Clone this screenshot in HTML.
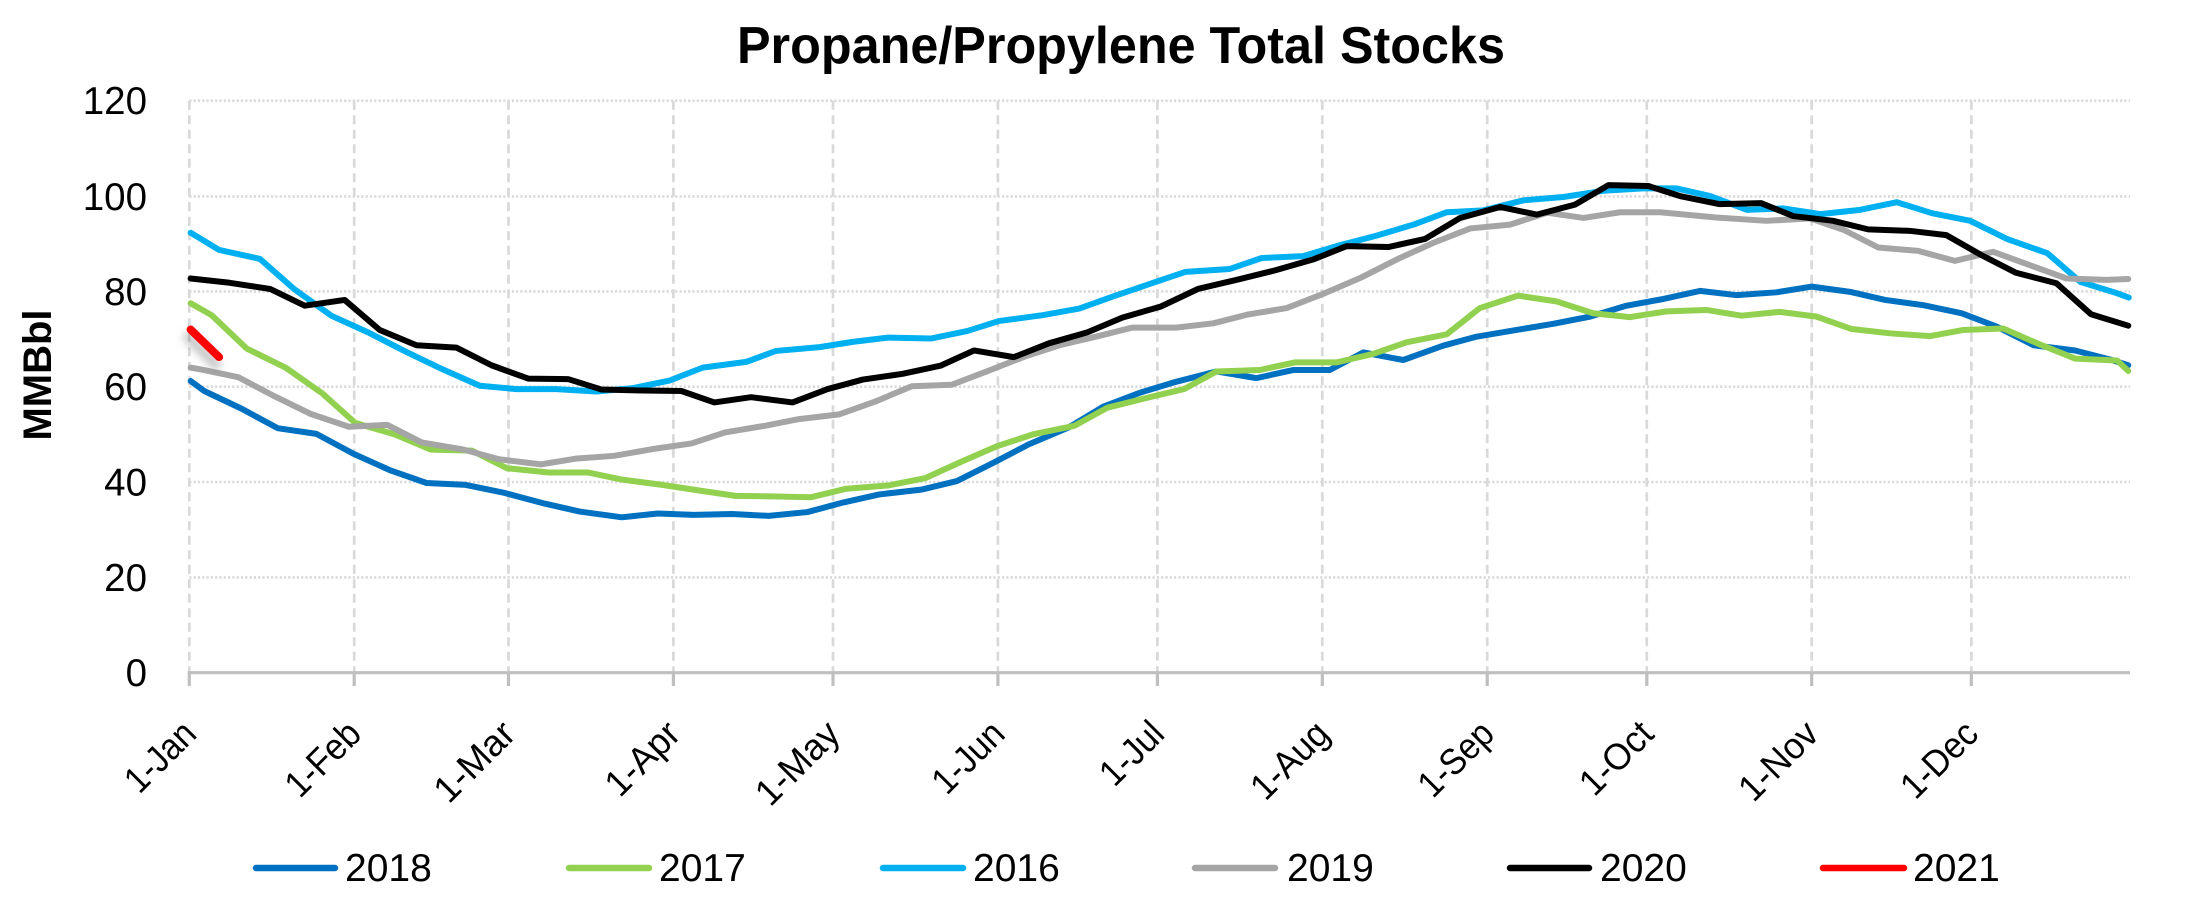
<!DOCTYPE html>
<html>
<head>
<meta charset="utf-8">
<style>
  html, body { margin: 0; padding: 0; background: #ffffff; }
  svg { display: block; }
  text { font-family: "Liberation Sans", Arial, sans-serif; fill: #000; }
</style>
</head>
<body>
<svg width="2192" height="900" viewBox="0 0 2192 900" xmlns="http://www.w3.org/2000/svg">
  <defs>
    <filter id="shadow" x="-50%" y="-50%" width="200%" height="200%">
      <feGaussianBlur stdDeviation="4"/>
    </filter>
  </defs>
  <rect x="0" y="0" width="2192" height="900" fill="#ffffff"/>

  <!-- Title -->
  <text x="737" y="63" font-size="52" font-weight="bold" textLength="768" lengthAdjust="spacingAndGlyphs">Propane/Propylene Total Stocks</text>

  <!-- Horizontal dotted gridlines -->
  <g stroke="#D9D9D9" stroke-width="2.6" stroke-dasharray="2.2 2.1">
    <line x1="189.3" y1="100.7" x2="2130" y2="100.7"/>
    <line x1="189.3" y1="196.4" x2="2130" y2="196.4"/>
    <line x1="189.3" y1="291.4" x2="2130" y2="291.4"/>
    <line x1="189.3" y1="386.7" x2="2130" y2="386.7"/>
    <line x1="189.3" y1="482.0" x2="2130" y2="482.0"/>
    <line x1="189.3" y1="577.4" x2="2130" y2="577.4"/>
  </g>

  <!-- Vertical dashed gridlines -->
  <g stroke="#D9D9D9" stroke-width="2.7" stroke-dasharray="9 5.5">
    <line x1="189.3" y1="100.7" x2="189.3" y2="672.7"/>
    <line x1="354.2" y1="100.7" x2="354.2" y2="672.7"/>
    <line x1="508.5" y1="100.7" x2="508.5" y2="672.7"/>
    <line x1="673.4" y1="100.7" x2="673.4" y2="672.7"/>
    <line x1="833.0" y1="100.7" x2="833.0" y2="672.7"/>
    <line x1="997.9" y1="100.7" x2="997.9" y2="672.7"/>
    <line x1="1157.4" y1="100.7" x2="1157.4" y2="672.7"/>
    <line x1="1322.3" y1="100.7" x2="1322.3" y2="672.7"/>
    <line x1="1487.2" y1="100.7" x2="1487.2" y2="672.7"/>
    <line x1="1646.8" y1="100.7" x2="1646.8" y2="672.7"/>
    <line x1="1811.7" y1="100.7" x2="1811.7" y2="672.7"/>
    <line x1="1971.3" y1="100.7" x2="1971.3" y2="672.7"/>
  </g>

  <!-- X axis line and ticks -->
  <g stroke="#BFBFBF" stroke-width="3.2">
    <line x1="187.7" y1="672.7" x2="2130" y2="672.7"/>
    <line x1="189.3" y1="672.7" x2="189.3" y2="686"/>
    <line x1="354.2" y1="672.7" x2="354.2" y2="686"/>
    <line x1="508.5" y1="672.7" x2="508.5" y2="686"/>
    <line x1="673.4" y1="672.7" x2="673.4" y2="686"/>
    <line x1="833.0" y1="672.7" x2="833.0" y2="686"/>
    <line x1="997.9" y1="672.7" x2="997.9" y2="686"/>
    <line x1="1157.4" y1="672.7" x2="1157.4" y2="686"/>
    <line x1="1322.3" y1="672.7" x2="1322.3" y2="686"/>
    <line x1="1487.2" y1="672.7" x2="1487.2" y2="686"/>
    <line x1="1646.8" y1="672.7" x2="1646.8" y2="686"/>
    <line x1="1811.7" y1="672.7" x2="1811.7" y2="686"/>
    <line x1="1971.3" y1="672.7" x2="1971.3" y2="686"/>
  </g>

  <!-- Y axis labels -->
  <g font-size="38.5" text-anchor="end">
    <text x="147" y="114">120</text>
    <text x="147" y="209.8">100</text>
    <text x="147" y="304.8">80</text>
    <text x="147" y="400.1">60</text>
    <text x="147" y="495.4">40</text>
    <text x="147" y="590.8">20</text>
    <text x="147" y="686">0</text>
  </g>

  <!-- Y axis title -->
  <text x="51" y="375" font-size="40" font-weight="bold" text-anchor="middle" transform="rotate(-90 51 375)">MMBbl</text>

  <!-- X axis labels -->
  <g font-size="37" text-anchor="end">
    <text x="198.3" y="736" transform="rotate(-45 198.3 736)" textLength="83.3" lengthAdjust="spacingAndGlyphs">1-Jan</text>
    <text x="363.2" y="736" transform="rotate(-45 363.2 736)" textLength="89.5" lengthAdjust="spacingAndGlyphs">1-Feb</text>
    <text x="517.5" y="736" transform="rotate(-45 517.5 736)" textLength="97.3" lengthAdjust="spacingAndGlyphs">1-Mar</text>
    <text x="682.4" y="736" transform="rotate(-45 682.4 736)" textLength="88.4" lengthAdjust="spacingAndGlyphs">1-Apr</text>
    <text x="842.0" y="736" transform="rotate(-45 842.0 736)" textLength="101.4" lengthAdjust="spacingAndGlyphs">1-May</text>
    <text x="1006.9" y="736" transform="rotate(-45 1006.9 736)" textLength="85.1" lengthAdjust="spacingAndGlyphs">1-Jun</text>
    <text x="1166.4" y="736" transform="rotate(-45 1166.4 736)" textLength="73.6" lengthAdjust="spacingAndGlyphs">1-Jul</text>
    <text x="1331.3" y="736" transform="rotate(-45 1331.3 736)" textLength="93.1" lengthAdjust="spacingAndGlyphs">1-Aug</text>
    <text x="1496.2" y="736" transform="rotate(-45 1496.2 736)" textLength="89.5" lengthAdjust="spacingAndGlyphs">1-Sep</text>
    <text x="1655.8" y="736" transform="rotate(-45 1655.8 736)" textLength="87.1" lengthAdjust="spacingAndGlyphs">1-Oct</text>
    <text x="1820.7" y="736" transform="rotate(-45 1820.7 736)" textLength="95.1" lengthAdjust="spacingAndGlyphs">1-Nov</text>
    <text x="1980.3" y="736" transform="rotate(-45 1980.3 736)" textLength="91.6" lengthAdjust="spacingAndGlyphs">1-Dec</text>
  </g>

  <!-- Data series (x = day of year, y = MMBbl) -->
  <g transform="translate(189.3 672.7) scale(5.3195 -4.7667)" fill="none" stroke-linejoin="round" stroke-linecap="round">
    <!-- 2018 -->
    <polyline vector-effect="non-scaling-stroke" stroke="#0070C0" stroke-width="6"
      points="0.25,61.2 2.8,59.1 9.8,55.4 16.6,51.3 23.9,50.1 30.9,45.9 37.9,42.4 44.6,39.8 52,39.4 59.3,37.7 66.7,35.5 73.4,33.8 81.3,32.6 88.1,33.4 94.8,33.1 102.1,33.3 108.9,32.9 116.2,33.7 122.9,35.7 129.7,37.4 137.6,38.4 144.3,40.2 151.1,44.0 157.8,47.9 165.4,51.5 171.8,55.8 178.6,58.7 185.4,61.0 193.1,63.2 200.6,61.8 207.5,63.5 214.4,63.5 220.7,67.2 228.2,65.6 235.7,68.6 242,70.5 249.5,71.9 256.4,73.2 263.3,74.7 270.2,77.0 277.1,78.4 284,80.1 290.9,79.2 298.4,79.8 305,81.0 312.2,79.9 318.8,78.2 326,77.1 333.2,75.4 339.8,72.6 346.7,68.7 354.5,67.6 361.1,65.7 364.5,64.5"/>
    <!-- 2017 -->
    <polyline vector-effect="non-scaling-stroke" stroke="#92D050" stroke-width="6"
      points="0.25,77.5 4.2,75.0 10.8,68.0 18.1,64.0 25,58.6 31.2,52.4 38.6,50.0 45.4,46.8 53.1,46.6 59.7,42.9 67.6,42.0 74.9,42.0 81.4,40.5 88.9,39.4 96,38.2 102.7,37.1 109.5,37.0 116.8,36.8 123.5,38.6 131.5,39.3 138.3,40.8 145,44.2 151.8,47.5 158.6,50.0 166.4,51.8 172.6,55.6 179.8,57.6 187,59.5 193.1,63.2 201.2,63.5 207.8,65.1 215.7,65.1 222.6,66.9 228.8,69.3 236.4,71.0 242.6,76.5 249.8,79.1 257,77.9 263.9,75.4 270.8,74.6 277.7,75.8 285.2,76.1 291.8,74.9 299,75.7 305.9,74.7 312.5,72.1 319.7,71.2 327.2,70.6 333.5,71.9 341,72.2 347.6,69.0 354.5,65.9 362.4,65.5 364.5,63.3"/>
    <!-- 2016 -->
    <polyline vector-effect="non-scaling-stroke" stroke="#00B0F0" stroke-width="6"
      points="0.25,92.3 5.6,88.7 13.3,86.8 19.8,80.4 26.7,74.9 33.6,71.4 40.8,67.3 47.7,63.6 54.6,60.2 61.5,59.5 69,59.5 76.5,59.0 83.4,59.7 90.3,61.3 96.5,64.0 104.7,65.2 110.3,67.5 118.5,68.3 124.7,69.4 131.3,70.3 139.4,70.1 146.3,71.7 152.3,73.8 160.4,75.0 167.3,76.4 173.6,78.9 180.4,81.5 187.3,84.1 195.6,84.7 201.6,87.0 209.4,87.4 215.7,89.5 223.2,91.7 230.1,94.0 236.4,96.6 243.3,97.0 250.8,99.1 258.3,99.8 265.8,101.1 273.3,101.6 279.6,101.6 285.9,100.0 292.8,97.1 299.7,97.4 306.6,96.2 314.1,97.1 321,98.7 327.6,96.4 334.8,94.8 341.7,91.0 349.3,88.0 355.5,82.0 362.4,79.6 364.6,78.7"/>
    <!-- 2019 -->
    <polyline vector-effect="non-scaling-stroke" stroke="#A5A5A5" stroke-width="6"
      points="0.25,64.0 2.3,63.6 9.2,62.0 16,58.0 22.8,54.3 30,51.6 37.2,52.0 43.7,48.3 51.6,46.8 58.1,44.8 66.1,43.7 72.6,44.9 79.9,45.5 87,46.9 94.4,48.1 100.7,50.4 108.2,51.8 114.6,53.2 122.2,54.2 129,56.9 135.8,60.1 143.3,60.4 149.9,63.2 157,66.3 163.6,68.7 170.8,70.6 177.3,72.4 185.5,72.4 192.5,73.3 198.8,75.1 206.3,76.5 213.2,79.5 220.1,82.8 227,86.7 233.9,90.2 240.8,93.2 248.3,94.0 255.2,96.5 262.1,95.4 269,96.6 276.5,96.6 287,95.5 296.5,94.8 304.7,95.3 311,92.9 317.5,89.2 325,88.5 331.9,86.4 339.1,88.3 346,85.5 352.9,82.7 360.4,82.4 364.5,82.6"/>
    <!-- 2020 -->
    <polyline vector-effect="non-scaling-stroke" stroke="#000000" stroke-width="6"
      points="0.25,82.7 7.6,81.8 15.2,80.5 21.7,77.0 29.2,78.2 35.8,71.9 42.7,68.7 50.2,68.2 56.8,64.5 63.7,61.7 71.2,61.6 77.5,59.4 85.3,59.2 92.5,59.1 98.7,56.7 105.6,57.8 113.4,56.7 120,59.5 126.6,61.5 134.1,62.7 141.2,64.4 147.5,67.6 155,66.2 161.6,69.1 168.8,71.4 175.4,74.5 182.6,76.8 189.6,80.5 197.2,82.5 204.1,84.4 211.3,86.7 217.6,89.5 225.4,89.3 232.3,91.0 238.9,95.4 246.4,97.7 253.3,96.1 260.5,98.2 266.8,102.3 274.3,102.1 280.2,100.0 287.7,98.3 295.5,98.5 301.5,95.8 309,94.8 315.6,93.0 323.4,92.7 330.3,91.8 336.9,87.6 343.4,83.9 351,81.7 357.5,75.2 364.5,72.8"/>
  </g>

  <!-- 2021 with soft shadow -->
  <line x1="188" y1="337" x2="216" y2="365" stroke="#808080" stroke-opacity="0.45" stroke-width="10" stroke-linecap="round" filter="url(#shadow)"/>
  <line x1="190.6" y1="329.5" x2="219.1" y2="357.1" stroke="#FF0000" stroke-width="8" stroke-linecap="round"/>

  <!-- Legend -->
  <g stroke-width="6.5" stroke-linecap="round">
    <line x1="256" y1="868" x2="335" y2="868" stroke="#0070C0"/>
    <line x1="569" y1="868" x2="649" y2="868" stroke="#92D050"/>
    <line x1="883" y1="868" x2="963" y2="868" stroke="#00B0F0"/>
    <line x1="1195" y1="868" x2="1275" y2="868" stroke="#A5A5A5"/>
    <line x1="1510" y1="868" x2="1589" y2="868" stroke="#000000"/>
    <line x1="1823" y1="868" x2="1904" y2="868" stroke="#FF0000"/>
  </g>
  <g font-size="39">
    <text x="345" y="881">2018</text>
    <text x="659" y="881">2017</text>
    <text x="973" y="881">2016</text>
    <text x="1287" y="881">2019</text>
    <text x="1600" y="881">2020</text>
    <text x="1913" y="881">2021</text>
  </g>
</svg>
</body>
</html>
